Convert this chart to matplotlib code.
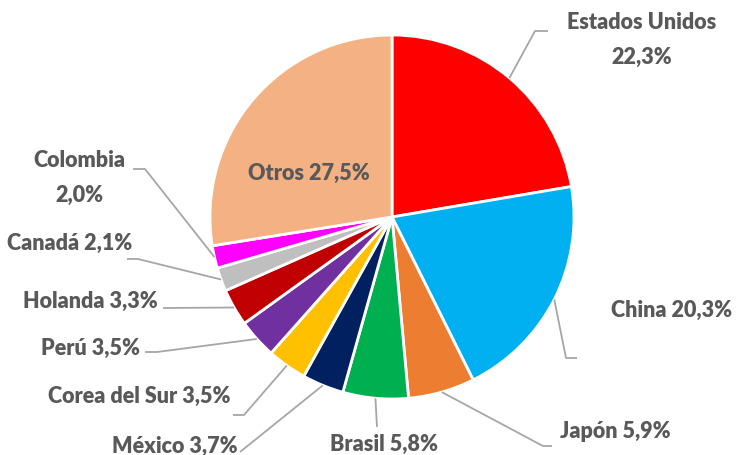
import numpy as np
import matplotlib.pyplot as plt

paises = ['Estados Unidos', 'China', 'Japón', 'Brasil', 'México', 'Corea del Sur',
          'Perú', 'Holanda', 'Canadá', 'Colombia', 'Otros']
valores = [22.3, 20.3, 5.9, 5.8, 3.7, 3.5, 3.5, 3.3, 2.1, 2.0, 27.5]
colores = ['#FF0000', '#00B0F0', '#ED7D31', '#00B050', '#002060', '#FFC000',
           '#7030A0', '#C00000', '#BFBFBF', '#FF00FF', '#F4B183']
etiquetas = ['Estados Unidos\n22,3%', 'China 20,3%', 'Japón 5,9%', 'Brasil 5,8%',
             'México 3,7%', 'Corea del Sur 3,5%', 'Perú 3,5%', 'Holanda 3,3%',
             'Canadá 2,1%', 'Colombia\n2,0%', 'Otros 27,5%']

W, H = 736, 456
cx, cy, R = 392, 218, 182  # pixel coords, y down

# layout in pixel coords (y down): elbow points of leader line, label pos, alignment
layout = {
    'Estados Unidos': ([(535, 32), (548, 32)], (642, 40), 'center'),
    'China': ([(566, 359), (577, 359)], (611, 310), 'left'),
    'Japón': ([(543, 447), (552, 447)], (560, 432), 'left'),
    'Brasil': ([(377, 428)], (384, 444), 'center'),
    'México': ([(240, 453)], (238, 446), 'right'),
    'Corea del Sur': ([(244, 416), (233, 416)], (231, 396), 'right'),
    'Perú': ([(157, 353), (145, 353)], (140, 348), 'right'),
    'Holanda': ([(163, 309)], (158, 301), 'right'),
    'Canadá': ([(138, 260), (127, 260)], (7, 243), 'left'),
    'Colombia': ([(145, 170), (133, 170)], (79, 178), 'center'),
}

plt.rcParams['font.family'] = ['Lato', 'DejaVu Sans']
fig = plt.figure(figsize=(W / 100, H / 100), dpi=100)
ax = fig.add_axes([0, 0, 1, 1])

wedges, _ = ax.pie(valores, colors=colores, startangle=90, counterclock=False,
                   radius=R, center=(cx, H - cy),
                   wedgeprops=dict(edgecolor='white', linewidth=2))
ax.set_xlim(0, W)
ax.set_ylim(0, H)
ax.set_aspect('equal')
ax.axis('off')

txt = dict(color='#595959', fontsize=15.5, fontweight='heavy')
for w, nombre, etq in zip(wedges, paises, etiquetas):
    ang = np.deg2rad((w.theta1 + w.theta2) / 2)
    if nombre == 'Otros':
        ax.text(309, H - 173, etq, ha='center', va='center', **txt)
        continue
    x0 = cx + R * np.cos(ang)
    y0 = (H - cy) + R * np.sin(ang)
    pts, (lx, ly), ha = layout[nombre]
    xs = [x0] + [p[0] for p in pts]
    ys = [y0] + [H - p[1] for p in pts]
    ax.plot(xs, ys, color='#A6A6A6', lw=1.3, solid_capstyle='butt')
    ax.text(lx, H - ly, etq, ha=ha, va='center', multialignment='center',
            linespacing=1.8, **txt)

fig.savefig('out.png', dpi=100)
